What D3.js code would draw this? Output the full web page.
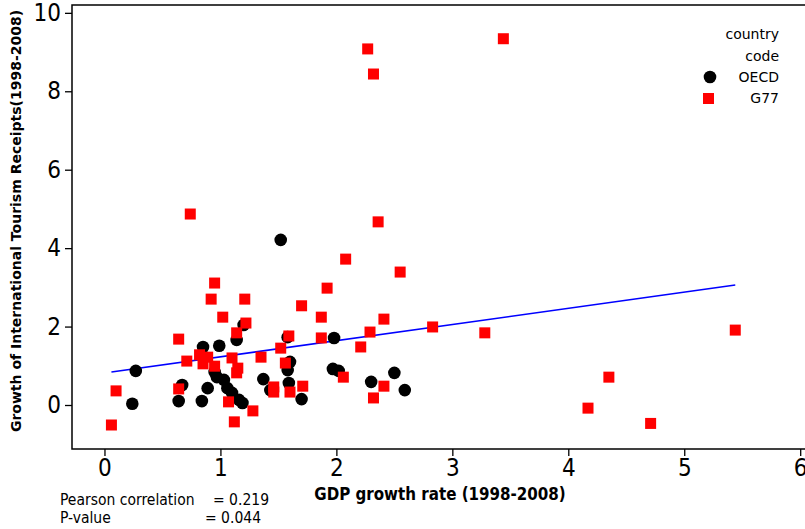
<!DOCTYPE html>
<html>
<head>
<meta charset="utf-8">
<script src="https://cdn.jsdelivr.net/npm/d3@7"></script>
<style>
  body { margin: 0; background: #fff; }
  svg { display: block; }
  .tick text { font-family: "Liberation Sans Narrow", "DejaVu Sans Condensed", "DejaVu Sans"; font-size: 24px; fill: #000; }
  .tick line { stroke: #000; stroke-width: 1.3; }
  .axis-title { font-family: "DejaVu Sans Condensed", "DejaVu Sans"; font-stretch: condensed; font-weight: bold; font-size: 16.8px; }
  .y-title { font-family: "DejaVu Sans", Verdana; font-weight: bold; font-size: 14px; }
  .legend text { font-family: "DejaVu Sans", Verdana; font-size: 14px; }
  .stats { font-family: "Liberation Sans Narrow", "DejaVu Sans Condensed", "DejaVu Sans"; font-size: 15.5px; }
</style>
</head>
<body>
<div id="chart"></div>
<script>
/* OECD countries: GDP growth, tourism receipts growth */
var oecdX = [0.27,0.24,0.67,0.64,0.84,0.85,0.99,0.89,0.95,0.97,1.03,1.06,1.10,1.16,1.19,1.20,1.14,1.37,1.43,1.52,1.58,1.60,1.58,1.59,1.70,1.98,1.97,2.02,2.30,2.50,2.59];
var oecdY = [0.87,0.03,0.51,0.10,0.10,1.48,1.51,0.43,0.84,0.71,0.64,0.43,0.31,0.13,0.05,2.04,1.66,0.66,0.38,4.21,1.73,1.10,0.89,0.56,0.15,1.71,0.92,0.87,0.59,0.82,0.38];

/* G77 countries */
var g77X = [0.06,0.10,0.64,0.64,0.74,0.71,0.82,0.89,0.85,0.95,0.92,0.95,1.02,1.22,1.21,1.14,1.10,1.15,1.14,1.07,1.28,1.12,1.35,1.46,1.46,1.52,1.56,1.59,1.60,1.71,1.70,1.87,1.87,1.92,2.08,2.06,2.21,2.29,2.32,2.41,2.41,2.36,2.55,2.27,2.32,3.44,2.83,3.28,5.44,4.35,4.17,4.71];
var g77Y = [-0.51,0.36,1.68,0.41,4.87,1.12,1.28,1.22,1.05,0.99,2.70,3.11,2.24,2.09,2.70,1.84,1.20,0.94,0.82,0.08,-0.15,-0.43,1.22,0.46,0.33,1.45,1.07,1.76,0.33,0.48,2.53,2.24,1.71,2.98,3.72,0.71,1.48,1.86,0.18,0.48,2.19,4.67,3.39,9.08,8.44,9.34,1.99,1.84,1.91,0.71,-0.08,-0.47];

/* fitted line */
var fitIntercept = 0.817, fitSlope = 0.412;

var xTicks = [0,1,2,3,4,5,6];
var yTicks = [0,2,4,6,8,10];
var groups = ["OECD","G77"];
var statLabels = ["Pearson correlation","P-value"];
var statValues = ["= 0.219","= 0.044"];

var width = 805, height = 529;
var pLeft = 72, pRight = 806, pTop = 5, pBottom = 449;

var svg = d3.select("#chart").append("svg")
    .attr("width", width)
    .attr("height", height);

var x = d3.scaleLinear().domain([-0.28, 6.05]).range([pLeft, pRight]);
var y = d3.scaleLinear().domain([-1.122, 10.2]).range([pBottom, pTop]);

// axes
var xAxis = svg.append("g")
    .attr("transform", "translate(0," + pBottom + ")")
    .call(d3.axisBottom(x).tickValues(xTicks).tickSize(7).tickPadding(3).tickFormat(d3.format("d")));
xAxis.select(".domain").remove();

var yAxis = svg.append("g")
    .attr("transform", "translate(" + pLeft + ",0)")
    .call(d3.axisLeft(y).tickValues(yTicks).tickSize(7).tickPadding(4).tickFormat(d3.format("d")));
yAxis.select(".domain").remove();

// frame
svg.append("rect")
    .attr("x", pLeft).attr("y", pTop)
    .attr("width", pRight - pLeft).attr("height", pBottom - pTop)
    .attr("fill", "none").attr("stroke", "#000").attr("stroke-width", 1.5);

// regression line over range of data
var allX = oecdX.concat(g77X);
var xmin = d3.min(allX), xmax = d3.max(allX);
svg.append("line")
    .attr("x1", x(xmin)).attr("y1", y(fitIntercept + fitSlope * xmin))
    .attr("x2", x(xmax)).attr("y2", y(fitIntercept + fitSlope * xmax))
    .attr("stroke", "#0000ff").attr("stroke-width", 1.6);

// OECD circles
svg.append("g").selectAll("circle")
    .data(d3.range(oecdX.length))
  .enter().append("circle")
    .attr("cx", function(i){ return x(oecdX[i]); })
    .attr("cy", function(i){ return y(oecdY[i]); })
    .attr("r", 6.3)
    .attr("fill", "#000");

// G77 squares
var sq = 11;
svg.append("g").selectAll("rect")
    .data(d3.range(g77X.length))
  .enter().append("rect")
    .attr("x", function(i){ return x(g77X[i]) - sq/2; })
    .attr("y", function(i){ return y(g77Y[i]) - sq/2; })
    .attr("width", sq).attr("height", sq)
    .attr("fill", "#ff0000");

// titles
svg.append("text")
    .attr("class", "axis-title")
    .attr("x", 440).attr("y", 500)
    .attr("text-anchor", "middle")
    .text("GDP growth rate (1998-2008)");

svg.append("text")
    .attr("class", "y-title")
    .attr("transform", "translate(21,221) rotate(-90)")
    .attr("text-anchor", "middle")
    .text("Growth of International Tourism Receipts(1998-2008)");

// legend
var lg = svg.append("g").attr("class", "legend");
lg.append("text").attr("x", 779).attr("y", 39).attr("text-anchor", "end").text("country");
lg.append("text").attr("x", 779).attr("y", 61).attr("text-anchor", "end").text("code");
lg.append("circle").attr("cx", 710).attr("cy", 77).attr("r", 6.3).attr("fill", "#000");
lg.append("rect").attr("x", 703).attr("y", 93).attr("width", sq).attr("height", sq).attr("fill", "#ff0000");
lg.selectAll(".lab")
    .data(groups)
  .enter().append("text")
    .attr("class", "lab")
    .attr("x", 779)
    .attr("y", function(d, i){ return 82 + i * 21; })
    .attr("text-anchor", "end")
    .text(function(d){ return d; });

// stats
var st = svg.append("g").attr("class", "stats");
var valueX = [213, 205];
statLabels.forEach(function(d, i){
  st.append("text").attr("x", 60).attr("y", 505 + i * 18).text(d);
  st.append("text").attr("x", valueX[i]).attr("y", 505 + i * 18).text(statValues[i]);
});
</script>
</body>
</html>
